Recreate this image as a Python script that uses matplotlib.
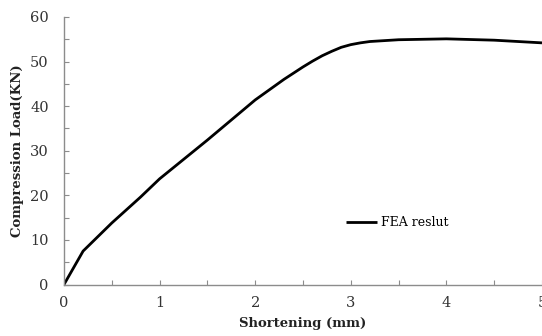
import matplotlib
matplotlib.use("Agg")
import matplotlib.pyplot as plt
from matplotlib.ticker import MultipleLocator

shortening = [0.0, 0.2, 0.5, 0.8, 1.0, 1.5, 2.0, 2.3, 2.5, 2.6, 2.7, 2.8, 2.9, 3.0, 3.1, 3.2, 3.5, 4.0, 4.5, 5.0]
load = [0.0, 7.5, 13.8, 19.6, 23.7, 32.4, 41.4, 46.0, 48.8, 50.1, 51.3, 52.3, 53.2, 53.8, 54.2, 54.5, 54.9, 55.1, 54.8, 54.2]
series_label = "FEA reslut"
x_label = "Shortening (mm)"
y_label = "Compression Load(KN)"

plt.rcParams['font.family'] = ['DejaVu Serif']

fig = plt.figure(figsize=(5.42, 3.36), dpi=100)
ax = fig.add_axes([64/542, 1 - 284.5/336, 1 - 64/542, (284.5 - 17)/336])

ax.plot(shortening, load, color='black', lw=2.0, label=series_label,
        solid_capstyle='butt', solid_joinstyle='round')

ax.set_xlim(0, 5)
ax.set_ylim(0, 60)
ax.xaxis.set_major_locator(MultipleLocator(1))
ax.xaxis.set_minor_locator(MultipleLocator(0.5))
ax.yaxis.set_major_locator(MultipleLocator(10))
ax.yaxis.set_minor_locator(MultipleLocator(5))

spine_col = '#8c8c8c'
for s in ['top', 'right']:
    ax.spines[s].set_visible(False)
for s in ['left', 'bottom']:
    ax.spines[s].set_color(spine_col)
    ax.spines[s].set_linewidth(1.0)

ax.tick_params(which='both', direction='in', length=3.5, width=0.8, color=spine_col)
ax.tick_params(axis='x', which='major', pad=8, labelsize=10.5, labelcolor='#333333')
ax.tick_params(axis='y', which='major', pad=11, labelsize=10.5, labelcolor='#333333')

ax.set_xlabel(x_label, fontsize=9.5, fontweight='bold', color='#222222', labelpad=5)
ax.set_ylabel(y_label, fontsize=9.5, fontweight='bold', color='#222222', labelpad=4)

ax.legend(loc='center left', bbox_to_anchor=(0.58, 0.23), frameon=False,
          fontsize=9, handlelength=2.5, handletextpad=0.3, borderaxespad=0)

fig.savefig("out.png", dpi=100)
